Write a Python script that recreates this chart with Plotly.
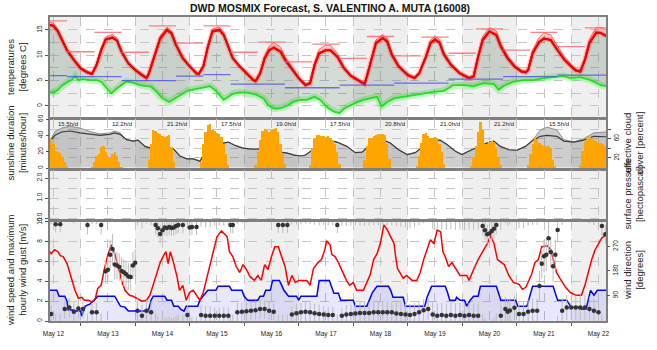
import pandas as pd
import plotly.graph_objects as go

BASE = pd.Timestamp("2024-05-12 12:00")


def tt(hs):
    return [None if h is None else BASE + pd.Timedelta(hours=h) for h in hs]


X_START, X_END = -1.5, 243.3
day_noon_h = list(range(0, 241, 24))
midnight_h = list(range(12, 241, 24))

# ---------------- temperature panel ----------------
temp_h = [-1.5, 0, 2, 4, 6, 9, 12, 15, 17, 19, 21, 23, 26, 28, 30, 33, 36, 39, 41, 42,
          45, 47, 50, 52, 54, 57, 60, 63, 64, 66, 68, 70, 73, 75, 77, 79, 82, 86, 88, 89,
          91, 93, 95, 97, 100, 102, 105, 108, 111, 113, 115, 117, 120, 122, 125, 128, 131, 134, 137, 138,
          140, 142, 145, 147, 149, 152, 156, 159, 161, 164, 166, 168, 170, 172, 175, 179, 183, 185, 187, 189,
          192, 195, 197, 200, 203, 206, 208, 209, 211, 214, 216, 219, 222, 225, 228, 230, 232, 234, 236, 239,
          241, 243.3]
temp = [16.0, 15.8, 14.7, 13.0, 11.0, 9.1, 7.4, 6.6, 6.3, 8.1, 11.0, 13.1, 13.5, 12.9, 10.7, 8.4, 7.1, 6.1, 5.5, 6.4,
        10.4, 13.3, 15.0, 14.3, 12.0, 9.4, 7.8, 6.4, 6.3, 7.8, 11.7, 14.7, 15.0, 14.0, 11.7, 9.4, 7.8, 6.1, 5.1, 4.9,
        6.4, 9.4, 11.0, 11.5, 10.7, 9.1, 7.4, 5.5, 4.1, 4.5, 8.1, 10.4, 11.0, 11.0, 9.7, 7.4, 5.9, 5.1, 4.3, 5.8,
        9.1, 12.4, 13.4, 12.7, 10.1, 7.8, 6.1, 5.5, 6.4, 9.7, 12.4, 13.1, 12.5, 10.1, 8.1, 6.4, 5.5, 5.8, 9.7, 13.0,
        14.7, 14.0, 11.7, 9.4, 7.8, 6.8, 6.6, 7.1, 10.4, 12.7, 13.3, 13.0, 11.0, 9.1, 7.8, 7.0, 6.8, 9.1, 12.4, 14.5,
        14.4, 13.8]
temp_spread = [0.6, 0.5, 0.4, 0.3, 0.3, 0.3, 0.3, 0.3, 0.3, 0.3, 0.4, 0.5, 0.6, 0.5, 0.4, 0.3, 0.3, 0.3, 0.3, 0.3,
               0.4, 0.5, 0.5, 0.5, 0.4, 0.3, 0.3, 0.3, 0.3, 0.3, 0.4, 0.5, 0.6, 0.5, 0.4, 0.3, 0.3, 0.3, 0.3, 0.3,
               0.3, 0.5, 0.8, 1.0, 0.9, 0.6, 0.4, 0.3, 0.3, 0.3, 0.5, 0.8, 1.0, 1.0, 0.7, 0.4, 0.3, 0.3, 0.3, 0.3,
               0.4, 0.6, 0.7, 0.6, 0.5, 0.4, 0.3, 0.3, 0.3, 0.4, 0.6, 0.7, 0.6, 0.5, 0.4, 0.3, 0.3, 0.3, 0.5, 0.7,
               0.8, 0.8, 0.6, 0.5, 0.4, 0.3, 0.3, 0.3, 0.6, 0.9, 1.1, 1.0, 0.8, 0.6, 0.4, 0.3, 0.3, 0.5, 0.8, 1.0,
               1.1, 1.2]

dew_h = [-1.5, 0, 2, 4, 6.5, 8, 9.5, 11, 13, 16, 19, 21, 23.5, 25.5, 28, 30, 32, 35, 38, 41,
         43, 45.5, 48, 51, 53.5, 56, 59, 62, 66, 69, 71, 73, 75, 77, 79, 82, 86, 89.5, 92.5, 94.5,
         97, 99, 101, 103.5, 105.5, 108.5, 111.5, 115, 117.5, 119.5, 121, 123.5, 126, 128, 131, 134, 136.5, 139.5, 142.5, 144.5,
         147, 150, 154, 159, 163, 167.5, 172, 176, 180.5, 185, 189.5, 194, 196, 198, 202.5, 207, 211.5, 216, 220, 224.5,
         227.5, 232, 236.5, 241, 243.3]
dew = [2.8, 2.6, 3.2, 4.1, 4.8, 5.1, 5.9, 5.1, 5.3, 5.1, 5.1, 4.8, 3.5, 2.5, 3.5, 4.1, 4.8, 4.6, 4.1, 3.9,
       3.8, 2.8, 1.5, 0.8, 1.5, 2.2, 3.0, 3.3, 3.7, 3.9, 3.2, 2.2, 1.2, 1.8, 2.4, 2.7, 2.6, 2.2, 1.5, 0.2,
       -0.5, -0.5, -0.3, 0.2, 0.8, 1.2, 1.2, 1.8, 1.2, 0.2, -0.4, -1.1, -1.4, -0.5, 0.2, 0.8, 1.2, 1.5, 1.8, -0.1,
       0.8, 1.5, 1.8, 2.2, 2.6, 2.8, 3.0, 4.1, 4.1, 3.9, 4.5, 4.3, 3.2, 3.9, 4.8, 5.1, 5.1, 5.5, 5.7, 5.9,
       5.5, 5.7, 5.1, 4.1, 3.9]

# 12-hourly extreme segments (red) and daily segments (blue)
tx_start = [-1.5, 6, 18, 30, 42, 54, 66, 78, 90, 102, 114, 126, 138, 150, 162, 174, 186, 198, 210, 222, 234]
tx_end = [6, 18, 30, 42, 54, 66, 78, 90, 102, 114, 126, 138, 150, 162, 174, 186, 198, 210, 222, 234, 243.3]
tx_val = [16.8, 10.7, 14.5, 10.6, 15.8, 12.4, 15.8, 10.6, 12.6, 8.7, 12.2, 9.4, 13.7, 9.9, 13.6, 10.4, 15.2, 11.0,
          14.5, 11.7, 15.4]
tb_start = [-1.5, 6, 30, 54, 66, 78, 102, 126, 150, 174, 198, 222]
tb_end = [6, 30, 54, 66, 78, 102, 126, 150, 174, 198, 222, 243.3]
tb_val = [6.0, 5.8, 5.0, 5.9, 6.2, 4.3, 3.6, 4.1, 4.5, 5.3, 5.8, 6.1]

# ---------------- sunshine / cloud panel ----------------
sun_start = [-1, 17, 42, 65, 89, 113, 137, 160, 184, 209, 232]
sun_vals = [
    [36, 30, 22, 20, 19, 14, 8, 3],
    [2, 8, 15, 18, 26, 28, 20, 14, 14, 18, 20, 16, 8, 2],
    [10, 30, 47, 46, 44, 42, 40, 39, 40, 41, 26, 8],
    [8, 30, 45, 54, 55, 48, 46, 44, 42, 39, 30, 18, 5],
    [5, 20, 35, 46, 49, 48, 45, 48, 49, 50, 45, 30, 18, 6],
    [5, 25, 38, 41, 41, 40, 40, 39, 40, 38, 35, 30, 20, 6],
    [10, 28, 38, 38, 40, 41, 42, 42, 42, 41, 30, 12],
    [3, 16, 32, 43, 44, 40, 38, 38, 39, 38, 30, 20, 6],
    [3, 14, 28, 45, 57, 48, 30, 30, 33, 34, 33, 25, 14, 5],
    [5, 18, 30, 38, 36, 31, 29, 28, 28, 28, 25, 10, 3],
    [5, 22, 33, 38, 39, 37, 35, 34, 32, 31, 30, 28],
]
sun_daily_text = ["15.5h/d", "12.2h/d", "21.2h/d", "17.5h/d", "19.0h/d", "17.5h/d",
                  "20.8h/d", "21.0h/d", "21.2h/d", "15.5h/d"]

cloud_h = [-1.5, 0.7, 3.6, 7.3, 11.7, 16, 20.5, 24.9, 27, 29.3, 32.2, 35.1, 37.3, 40.3, 44, 48.4, 52.8, 55.7, 58.7,
           61.6, 64.5, 66, 70, 74, 77, 80, 83, 86, 89, 92, 96, 100, 103, 106, 109, 111, 113, 115, 117, 120.4,
           124.8, 129.2, 132.9, 135.9, 138, 141, 145.4, 148.3, 152, 155.7, 159.3, 163, 165.9, 170.3, 173.3, 177,
           179.9, 182.8, 185, 190.9, 193.9, 196.8, 200.5, 204.1, 207.8, 211.5, 214.4, 217.3, 221.7, 224.7, 229.1,
           233.5, 237.9, 243.3]
cloud_eff = [55, 67, 74, 76, 72, 69, 67, 69, 72, 69, 58, 55, 57, 44, 39, 39, 39, 24, 18, 18,
             13, 25, 40, 50, 53, 46, 41, 39, 38, 40, 35, 32, 30, 26, 24, 26, 33, 40, 48, 58,
             53, 44, 31, 32, 41, 51, 57, 51, 37, 27, 31, 44, 55, 57, 48, 34, 27, 34, 39, 51,
             55, 44, 37, 36, 44, 58, 65, 67, 65, 55, 53, 57, 65, 64]
cloud_tot = [55, 75, 82, 86, 82, 75, 70, 72, 76, 72, 58, 55, 57, 44, 39, 39, 39, 24, 18, 18,
             13, 25, 40, 50, 53, 46, 41, 39, 38, 40, 35, 32, 30, 26, 24, 26, 33, 40, 48, 58,
             53, 44, 31, 32, 41, 51, 57, 51, 37, 27, 31, 44, 55, 57, 48, 34, 27, 34, 39, 51,
             55, 44, 37, 36, 44, 60, 78, 84, 78, 58, 53, 60, 72, 74]

# ---------------- wind panel ----------------
gust_h = [-1.5, -1, 0.5, 2, 3, 4.3, 6, 7, 8, 9.5, 11, 12.5, 13.5, 15.5, 17, 18.5, 19.5, 21, 22.5, 24,
          25.5, 27, 28.5, 30, 31.5, 33.5, 35, 36.5, 39, 41, 42.5, 44, 45.5, 47, 48.5, 49.5, 50.5, 51.5, 53, 54.5,
          55.5, 57, 58.5, 60, 61.5, 63, 64.5, 66, 67.5, 69, 70.5, 72, 74, 76.5, 77.5, 79, 80.5, 82, 83.5, 85,
          86.5, 88.5, 90, 91.5, 93, 94.5, 96, 97.5, 99, 100.5, 102, 103.5, 105, 106.5, 108, 111.5, 113, 114.5, 116.5, 118,
          119.5, 120.3, 121.8, 122.6, 124, 125.5, 128, 129, 130.5, 132, 133.5, 136.5, 138, 139.5, 141, 142.5, 144, 145.5, 147, 148.5,
          150, 150.5, 151.5, 152.5, 154, 155.5, 158, 160, 161.5, 163, 164.5, 166, 167.5, 169, 170.5, 171.5, 172.5, 174, 175.5, 177,
          179, 182, 183, 185, 187, 189.5, 191, 192.5, 194, 195.5, 197, 198.5, 200.5, 202.5, 205, 206.5, 208, 209.5, 210.5, 212,
          213.5, 215, 217.5, 219, 220.5, 221.5, 223, 225.5, 227.5, 230, 232.5, 234, 235.5, 237, 238.5, 240, 241.5, 243.3]
gust = [7.0, 6.8, 7.2, 7.0, 6.6, 6.5, 5.8, 5.0, 4.1, 3.1, 2.3, 2.4, 2.1, 2.1, 1.9, 2.3, 3.3, 3.6, 5.3, 6.7,
        7.7, 6.8, 5.5, 4.1, 3.1, 2.6, 2.5, 2.3, 2.0, 2.1, 2.6, 3.7, 4.9, 5.9, 6.6, 7.0, 5.8, 7.0, 5.8, 4.4,
        3.1, 3.6, 2.1, 2.9, 3.1, 2.6, 2.1, 2.9, 4.4, 5.8, 7.1, 8.5, 9.1, 8.5, 7.0, 6.5, 5.5, 4.9, 5.7, 5.2,
        4.5, 4.1, 4.6, 4.1, 5.7, 5.2, 6.5, 7.5, 7.5, 6.5, 5.5, 3.6, 4.6, 3.9, 4.1, 4.1, 3.6, 5.3, 5.9, 6.2,
        7.2, 8.1, 7.7, 6.7, 6.5, 5.9, 4.6, 4.1, 3.6, 3.9, 3.1, 3.1, 3.9, 4.7, 6.2, 6.8, 7.9, 9.7, 9.2, 8.5,
        7.8, 6.8, 5.3, 4.9, 4.3, 4.6, 4.1, 4.1, 4.9, 6.2, 7.2, 8.2, 7.8, 9.2, 9.0, 7.0, 6.5, 5.5, 5.9, 5.3,
        4.6, 4.6, 4.1, 5.2, 6.2, 7.2, 7.8, 8.6, 7.8, 6.2, 5.9, 5.7, 4.6, 3.9, 3.7, 3.2, 3.4, 4.1, 4.7, 5.9,
        6.2, 7.5, 7.6, 7.2, 5.9, 4.9, 4.3, 3.4, 2.9, 2.6, 2.6, 3.6, 4.9, 6.2, 7.2, 7.8, 8.4, 8.7]

wind_h = [-1.5, 1.5, 2.5, 5, 6, 6.5, 9, 10, 12, 12.5, 14, 16, 18, 19.5, 27, 28, 29.5, 31.5, 33, 41,
          42, 43, 44, 49, 50, 52, 53, 55, 56, 57.5, 58.5, 63.5, 64.5, 65.5, 67, 68, 71.5, 72.5, 77.5, 78.5,
          83, 84, 85.5, 90, 91, 92.5, 93.5, 95.5, 96.5, 99.5, 100.5, 101.5, 103.5, 107, 108, 109, 116, 117, 121.5, 122.5,
          123.5, 125.5, 126.5, 132, 133, 138, 139, 140.5, 142.5, 147.5, 148.5, 149.5, 154, 155, 163.5, 164.5, 166.5, 172.5, 173.5, 174.5,
          177, 177.5, 179, 181, 182, 183.5, 185, 187, 188, 195, 196, 197, 203.5, 204.5, 208.5, 209.5, 211, 220, 221, 222,
          226, 227, 228, 231, 232, 234.5, 235.5, 236.5, 238, 239.5, 243.3]
wind = [3.1, 3.1, 2.5, 2.5, 2.0, 1.1, 1.1, 1.0, 1.0, 0.5, 1.5, 1.7, 2.1, 2.5, 2.5, 2.1, 1.5, 1.4, 1.0, 1.0,
        1.2, 2.1, 2.5, 2.5, 2.1, 2.1, 1.5, 1.5, 1.2, 1.0, 1.5, 1.5, 2.1, 2.4, 2.9, 3.1, 3.1, 3.5, 3.5, 3.1,
        3.1, 2.5, 2.1, 2.1, 2.5, 2.5, 3.1, 3.1, 4.1, 4.1, 3.6, 3.1, 2.5, 2.5, 2.1, 2.5, 2.5, 4.1, 4.1, 3.5,
        2.8, 2.8, 2.1, 2.1, 1.5, 1.5, 2.1, 2.9, 3.5, 3.5, 3.1, 2.4, 2.4, 1.5, 1.5, 2.4, 3.5, 3.5, 2.9, 2.1,
        2.1, 2.4, 2.1, 2.1, 1.5, 2.1, 2.5, 2.5, 3.5, 3.5, 2.8, 2.1, 2.1, 1.5, 1.5, 2.4, 3.5, 3.5, 2.8, 2.1,
        2.1, 1.8, 1.4, 1.4, 1.2, 1.2, 2.1, 3.1, 2.6, 3.1, 3.1]

dir_h = [-1, 1, 3, 5, 7, 9, 11, 13, 15, 17, 19, 21, 23, 24, 25, 26, 27, 28, 29, 30,
         31, 32, 33, 34, 35, 36, 37, 39, 41, 43, 45, 46, 47, 48, 49, 50, 51, 52, 53, 54,
         55, 57, 59, 60, 61, 63, 65, 67, 69, 71, 73, 75, 77, 78, 79, 81, 83, 85, 87, 89,
         91, 93, 95, 97, 99, 101, 103, 105, 107, 109, 111, 113, 115, 117, 119, 121, 123, 125, 127, 129,
         131, 133, 135, 137, 139, 141, 143, 145, 147, 149, 151, 153, 155, 157, 159, 161, 163, 165, 167, 169,
         171, 173, 175, 177, 179, 181, 183, 185, 187, 189, 190, 191, 192, 193, 194, 195, 197, 199, 200, 201,
         203, 205, 207, 209, 211, 213, 214, 215, 216, 217, 218, 219, 220, 221, 222, 224, 226, 228, 230, 232,
         234, 236, 238, 240, 241.5, 243]
dir_v = [22, 352, 352, 40, 46, 30, 42, 40, 349, 28, 28, 349, 179, 185, 240, 261, 204, 200, 195, 180,
         175, 168, 160, 158, 200, 210, 34, 16, 34, 28, 349, 337, 316, 330, 340, 338, 342, 338, 340, 345,
         349, 349, 18, 340, 342, 342, 18, 16, 16, 16, 16, 16, 16, 349, 349, 28, 30, 32, 34, 36,
         40, 40, 34, 30, 349, 349, 349, 20, 25, 28, 30, 28, 25, 22, 20, 18, 18, 349, 16, 20,
         22, 24, 26, 26, 26, 28, 28, 28, 28, 28, 24, 22, 20, 18, 22, 28, 36, 40, 20, 16,
         18, 16, 18, 16, 18, 16, 18, 16, 16, 345, 330, 315, 318, 327, 335, 349, 16, 40, 30, 35,
         45, 22, 22, 30, 34, 34, 125, 207, 234, 240, 300, 250, 197, 240, 331, 34, 46, 46, 46, 46,
         46, 40, 34, 28, 345, 315]
dir_err = [30, 30, 30, 35, 35, 35, 35, 35, 35, 35, 35, 35, 45, 45, 55, 55, 55, 50, 50, 50,
           50, 50, 50, 50, 50, 50, 45, 40, 40, 40, 35, 35, 35, 35, 30, 30, 30, 30, 30, 30,
           30, 30, 35, 30, 30, 30, 35, 35, 35, 30, 30, 30, 30, 30, 30, 35, 35, 35, 35, 35,
           35, 35, 35, 30, 30, 30, 30, 30, 35, 35, 35, 35, 35, 35, 30, 30, 30, 30, 30, 35,
           35, 35, 40, 40, 40, 40, 40, 40, 40, 40, 40, 40, 40, 40, 40, 40, 40, 40, 45, 45,
           45, 45, 45, 45, 45, 45, 45, 45, 45, 35, 35, 35, 35, 35, 35, 35, 45, 45, 45, 45,
           45, 45, 45, 45, 45, 45, 55, 55, 60, 60, 60, 55, 55, 55, 45, 45, 45, 45, 45, 45,
           45, 45, 45, 45, 35, 35]

# ---------------- figure ----------------
FONT = "Liberation Sans, Arial, sans-serif"
GRID = "#c4c4c4"
FRAME = "#7f7f7f"
TXT = "#222222"

fig = go.Figure()

# temperature
fig.add_trace(go.Scatter(x=tt(dew_h), y=dew, mode="lines", xaxis="x2", yaxis="y",
                         line=dict(color="rgba(0,235,0,0.22)", width=7)))
fig.add_trace(go.Scatter(x=tt(dew_h), y=dew, mode="lines", xaxis="x2", yaxis="y",
                         line=dict(color="#22dd22", width=1.8)))
fig.add_trace(go.Scatter(x=tt(temp_h), y=temp, mode="lines", xaxis="x2", yaxis="y",
                         fill="tonexty", fillcolor="rgba(80,110,80,0.24)",
                         line=dict(color="#ee0000", width=2)))
temp_hi = [a + b for a, b in zip(temp, temp_spread)]
fig.add_trace(go.Scatter(x=tt(temp_h), y=temp_hi, mode="lines", xaxis="x2", yaxis="y",
                         fill="tonexty", fillcolor="rgba(255,60,60,0.25)",
                         line=dict(color="rgba(255,90,90,0.9)", width=1)))
fig.add_trace(go.Scatter(x=tt(temp_h), y=temp, mode="lines", xaxis="x2", yaxis="y",
                         line=dict(color="rgba(255,0,0,0.22)", width=5)))
fig.add_trace(go.Scatter(x=tt(temp_h), y=temp, mode="lines", xaxis="x2", yaxis="y",
                         line=dict(color="#ee0000", width=2)))

sx, sy = [], []
for a, b, v in zip(tx_start, tx_end, tx_val):
    sx += [a, b, None]
    sy += [v, v, None]
fig.add_trace(go.Scatter(x=tt(sx), y=sy, mode="lines", xaxis="x2", yaxis="y",
                         line=dict(color="rgba(255,100,100,0.8)", width=1.3)))
bx, by = [], []
for a, b, v in zip(tb_start, tb_end, tb_val):
    bx += [a, b, None]
    by += [v, v, None]
fig.add_trace(go.Scatter(x=tt(bx), y=by, mode="lines", xaxis="x2", yaxis="y",
                         line=dict(color="rgba(80,80,235,0.8)", width=1.3)))

# cloud cover (base axis y2, right side) and sunshine (overlay y5, left side)
fig.add_trace(go.Scatter(x=tt(cloud_h), y=cloud_tot, mode="lines", xaxis="x3", yaxis="y2",
                         fill="tozeroy", fillcolor="rgba(120,120,120,0.36)",
                         line=dict(color="#8c8c8c", width=1)))
fig.add_trace(go.Scatter(x=tt(cloud_h), y=cloud_eff, mode="lines", xaxis="x3", yaxis="y2",
                         line=dict(color="#3c3c3c", width=1.2)))
sun_h, sun_m = [], []
for s, vals in zip(sun_start, sun_vals):
    for i, v in enumerate(vals):
        sun_h.append(s + i)
        sun_m.append(v)
fig.add_trace(go.Bar(x=tt(sun_h), y=sun_m, xaxis="x3", yaxis="y5", width=3600 * 1000,
                     marker=dict(color="#ffa500", line=dict(width=0))))

# empty pressure panel
fig.add_trace(go.Scatter(x=[None], y=[None], mode="lines", xaxis="x4", yaxis="y3"))

# wind speed / gusts (y4) and direction (overlay y6)
fig.add_trace(go.Scatter(x=tt(wind_h), y=wind, mode="lines", xaxis="x", yaxis="y4",
                         line=dict(color="#0000ff", width=1.5),
                         fill="tozeroy", fillcolor="rgba(70,70,255,0.13)"))
fig.add_trace(go.Scatter(x=tt(gust_h), y=gust, mode="lines", xaxis="x", yaxis="y4",
                         line=dict(color="#ff0000", width=1.5)))
wrap_h, wrap_v, wrap_e = [], [], []
for h, v, e in zip(dir_h, dir_v, dir_err):
    if v - e < 0:
        wrap_h.append(h); wrap_v.append(v + 360); wrap_e.append(e)
    if v + e > 360:
        wrap_h.append(h); wrap_v.append(v - 360); wrap_e.append(e)
fig.add_trace(go.Scatter(x=tt(wrap_h), y=wrap_v, mode="markers", xaxis="x", yaxis="y6",
                         marker=dict(size=1, color="rgba(0,0,0,0)"),
                         error_y=dict(type="data", array=wrap_e, color="#bdbdbd", thickness=1, width=0)))
fig.add_trace(go.Scatter(x=tt(dir_h), y=dir_v, mode="markers", xaxis="x", yaxis="y6",
                         marker=dict(size=4.5, color="#333333"),
                         error_y=dict(type="data", array=dir_err, color="#bdbdbd", thickness=1, width=0)))

# ---------------- layout ----------------
shapes = []
band_start = X_START
band_end = 12
while band_start < X_END:
    shapes.append(dict(type="rect", xref="x", yref="paper", x0=tt([band_start])[0],
                       x1=tt([min(band_end, X_END)])[0], y0=0, y1=1, fillcolor="#efefef",
                       line=dict(width=0), layer="below"))
    band_start = band_end + 24
    band_end = band_start + 24

xr = tt([X_START, X_END])
noons = tt(day_noon_h)
mids = tt(midnight_h)


def xax(anchor, bottom=False):
    d = dict(type="date", range=xr, anchor=anchor, domain=[0, 1],
             tickmode="array", tickvals=noons, tickformat="%b %d",
             showticklabels=bottom, ticks="", ticklen=0,
             tickfont=dict(size=6.5, color=TXT, family=FONT),
             showgrid=True, gridcolor=GRID, griddash="dash", gridwidth=1,
             minor=dict(tickmode="array", tickvals=mids, showgrid=True, gridcolor=GRID,
                        griddash="dash", ticks="outside" if bottom else "", ticklen=3,
                        tickcolor="#555555"),
             showline=True, linecolor=FRAME, linewidth=2, mirror=True, zeroline=False)
    if bottom:
        d["ticklabelstandoff"] = 5
    else:
        d["matches"] = "x"
    return d


def yax(domain, anchor, rng, tickvals, ticktext=None, minor=None, side="left"):
    d = dict(domain=domain, anchor=anchor, range=rng, side=side,
             tickmode="array", tickvals=tickvals, ticks="outside", ticklen=3,
             tickcolor="#555555", tickangle=-90,
             tickfont=dict(size=6.5, color=TXT, family=FONT),
             showgrid=True, gridcolor=GRID, griddash="dash", gridwidth=1,
             showline=True, linecolor=FRAME, linewidth=2, mirror=True, zeroline=False)
    if ticktext is not None:
        d["ticktext"] = ticktext
    if minor is not None:
        d["minor"] = dict(tickmode="array", tickvals=minor, showgrid=True, gridcolor=GRID,
                          griddash="dash", ticks="")
    return d


def ovl(over, anchor, rng, tickvals, ticktext=None, side="left"):
    d = dict(overlaying=over, anchor=anchor, range=rng, side=side,
             tickmode="array", tickvals=tickvals, ticks="outside", ticklen=3,
             tickcolor="#555555", tickangle=-90,
             tickfont=dict(size=6.5, color=TXT, family=FONT),
             showgrid=False, showline=False, zeroline=False)
    if ticktext is not None:
        d["ticktext"] = ticktext
    return d


PLOT_TOP, PLOT_BOT = 17, 321
H = PLOT_BOT - PLOT_TOP


def fy(px):
    return (PLOT_BOT - px) / H


def fx(px):
    return (px - 50) / (657 - 50 - 51)


layout = dict(
    width=657, height=350, margin=dict(l=50, r=51, t=17, b=29),
    paper_bgcolor="white", plot_bgcolor="rgba(0,0,0,0)", showlegend=False,
    font=dict(family=FONT, size=9, color=TXT), bargap=0,
    xaxis=xax("y4", bottom=True),
    xaxis2=xax("y"),
    xaxis3=xax("y2"),
    xaxis4=xax("y3"),
    yaxis=yax([fy(117.5), 1], "x2", [-2.27, 17.55], [0, 5, 10, 15], minor=[2.5, 7.5, 12.5]),
    yaxis2=yax([fy(168.5), fy(118.5)], "x3", [-2, 102], [20, 40, 60, 80],
               ticktext=["20", "", "60", ""], side="right"),
    yaxis5=ovl("y2", "x3", [-0.5, 61], [0, 20, 40, 60]),
    yaxis3=yax([fy(219.5), fy(169.5)], "x4", [-0.075, 2.425], [0, 1, 2],
               ticktext=["0.0", "1.0", "2.0"], minor=[0.5, 1.5]),
    yaxis4=yax([0, fy(220.5)], "x", [0, 10.15], [0, 2, 4, 6, 8, 10]),
    yaxis6=ovl("y4", "x", [-3.7, 365.5], [90, 180, 270], side="right"),
    shapes=shapes,
)
fig.update_layout(**layout)

ann = []
ann.append(dict(text="<b>DWD MOSMIX Forecast, S. VALENTINO A. MUTA (16008)</b>", x=fx(330), y=fy(8),
                xref="paper", yref="paper", showarrow=False, xanchor="center", yanchor="middle",
                font=dict(size=10.5, color="#111111")))
for text, px, py in [("temperatures<br>[degrees C]", 16, 67),
                     ("sunshine duration<br>[minutes/hour]", 16, 143.5),
                     ("wind speed and maximum<br>hourly wind gust [m/s]", 16, 271),
                     ("effective cloud<br>cover [percent]", 633, 143.5),
                     ("surface pressure<br>[hectopascal]", 633, 194.5),
                     ("wind direction<br>[degrees]", 633, 271)]:
    ann.append(dict(text=text, x=fx(px), y=fy(py), xref="paper", yref="paper", showarrow=False,
                    textangle=-90, xanchor="center", yanchor="middle",
                    font=dict(size=9.5, color=TXT)))
for i, t in enumerate(sun_daily_text):
    ann.append(dict(text=t, x=tt([6.4 + 24 * i])[0], y=fy(124.5), xref="x", yref="paper",
                    showarrow=False, font=dict(size=6, color=TXT)))
fig.update_layout(annotations=ann)

fig.write_html("out.html")
